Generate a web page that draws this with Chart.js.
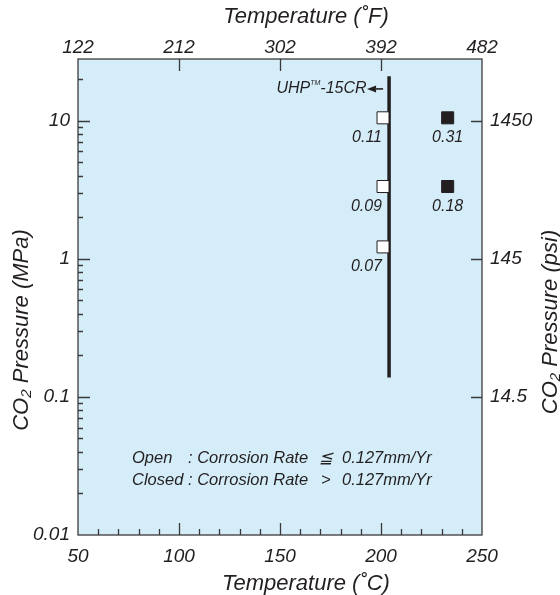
<!DOCTYPE html>
<html>
<head>
<meta charset="utf-8">
<script src="https://cdn.jsdelivr.net/npm/chart.js@4.4.1/dist/chart.umd.min.js"></script>
<style>
  body { margin: 0; background: #fff; }
  #wrap { width: 560px; height: 595px; }
</style>
</head>
<body>
<div id="wrap"><canvas id="myChart" width="560" height="595"></canvas></div>
<script>
// data
const openTemp = [201, 201, 201];           // degC
const openPressure = [10.5, 3.34, 1.22];    // MPa
const openRate = ['0.11', '0.09', '0.07'];  // mm/Yr
const closedTemp = [233, 233];
const closedPressure = [10.5, 3.34];
const closedRate = ['0.31', '0.18'];
const limitTemp = [204, 204];               // UHP-15CR line
const limitPressure = [0.138, 21];
const limitLabelPressure = 17;

// axis ticks
const cTicks = [50, 60, 70, 80, 90, 100, 110, 120, 130, 140, 150, 160, 170, 180, 190, 200, 210, 220, 230, 240, 250];
const fTicks = [122, 212, 302, 392, 482];
const mpaTicks = [0.01, 0.1, 1, 10];
const mpaMinor = [0.02, 0.03, 0.04, 0.05, 0.06, 0.07, 0.08, 0.09,
                  0.2, 0.3, 0.4, 0.5, 0.6, 0.7, 0.8, 0.9,
                  2, 3, 4, 5, 6, 7, 8, 9, 20];
const psiTicks = [14.5, 145, 1450];

const yMin = 0.01, yMax = 28;
const psiPerMpa = 145;

const ink = '#231f20';
const fam = '"Liberation Sans", Arial, sans-serif';
const tickFont = { family: fam, size: 19, style: 'italic' };

const toPts = (xs, ys) => xs.map((x, i) => ({ x: x, y: ys[i] }));

// background, frame, inward ticks, labels and titles
const decor = {
  id: 'decor',
  beforeDraw(chart) {
    const { ctx, chartArea: a } = chart;
    ctx.save();
    ctx.fillStyle = '#d4edf9';
    ctx.fillRect(a.left, a.top, a.right - a.left, a.bottom - a.top);
    ctx.restore();
  },
  afterDraw(chart) {
    const { ctx, chartArea: a, scales } = chart;
    ctx.save();
    ctx.strokeStyle = '#3a3a3a';
    ctx.lineWidth = 1.3;
    ctx.strokeRect(a.left, a.top, a.right - a.left, a.bottom - a.top);

    ctx.beginPath();
    // bottom degC
    scales.x.ticks.forEach(t => {
      if (t.value <= 50 || t.value >= 250) return;
      const px = Math.round(scales.x.getPixelForValue(t.value)) + 0.5;
      const len = t.value % 50 === 0 ? 12 : 6;
      ctx.moveTo(px, a.bottom); ctx.lineTo(px, a.bottom - len);
    });
    // top degF
    scales.x2.ticks.forEach(t => {
      if (t.value <= 122 || t.value >= 482) return;
      const px = Math.round(scales.x2.getPixelForValue(t.value)) + 0.5;
      ctx.moveTo(px, a.top); ctx.lineTo(px, a.top + 12);
    });
    // left MPa
    scales.y.ticks.forEach(t => {
      if (t.value <= yMin) return;
      const py = Math.round(scales.y.getPixelForValue(t.value)) + 0.5;
      const len = mpaTicks.includes(t.value) ? 12 : 5;
      ctx.moveTo(a.left, py); ctx.lineTo(a.left + len, py);
    });
    // right psi
    scales.y2.ticks.forEach(t => {
      const py = Math.round(scales.y2.getPixelForValue(t.value)) + 0.5;
      ctx.moveTo(a.right, py); ctx.lineTo(a.right - 11, py);
    });
    ctx.stroke();

    ctx.fillStyle = ink;
    // corrosion rate labels under the markers
    ctx.font = 'italic 16px ' + fam;
    ctx.textBaseline = 'middle';
    ctx.textAlign = 'right';
    openTemp.forEach((t, i) => {
      ctx.fillText(openRate[i], scales.x.getPixelForValue(t) - 1, scales.y.getPixelForValue(openPressure[i]) + 20);
    });
    ctx.textAlign = 'center';
    closedTemp.forEach((t, i) => {
      ctx.fillText(closedRate[i], scales.x.getPixelForValue(t), scales.y.getPixelForValue(closedPressure[i]) + 20);
    });

    // UHP(TM)-15CR with arrow
    const lx = scales.x.getPixelForValue(limitTemp[0]);
    const ly = scales.y.getPixelForValue(limitLabelPressure);
    const tip = lx - 22;
    ctx.beginPath();
    ctx.moveTo(tip, ly); ctx.lineTo(tip + 9, ly - 3.5); ctx.lineTo(tip + 9, ly + 3.5);
    ctx.closePath(); ctx.fill();
    ctx.lineWidth = 1.8;
    ctx.beginPath(); ctx.moveTo(tip + 8, ly); ctx.lineTo(lx - 6, ly); ctx.stroke();
    ctx.textAlign = 'right';
    ctx.font = 'italic 16px ' + fam;
    let ex = tip - 0.5;
    ctx.fillText('-15CR', ex, ly);
    ex -= ctx.measureText('-15CR').width;
    ctx.font = 'italic 7px ' + fam;
    ctx.fillText('TM', ex, ly - 6);
    ex -= ctx.measureText('TM').width;
    ctx.font = 'italic 16px ' + fam;
    ctx.fillText('UHP', ex, ly);

    // note
    ctx.font = 'italic 16.5px ' + fam;
    ctx.textAlign = 'left';
    ctx.fillText('Open', 132, 458);
    ctx.fillText(': Corrosion Rate', 188, 458);
    ctx.fillText('\u2266', 319, 458);
    ctx.fillText('0.127mm/Yr', 342, 458);
    ctx.fillText('Closed', 132, 480);
    ctx.fillText(': Corrosion Rate', 188, 480);
    ctx.fillText('>', 321, 480);
    ctx.fillText('0.127mm/Yr', 342, 480);

    // axis titles
    ctx.font = 'italic 22px ' + fam;
    ctx.textAlign = 'center';
    ctx.fillText('Temperature (\u02DAF)', 306, 17);
    ctx.fillText('Temperature (\u02DAC)', 306, 584);
    ctx.save();
    ctx.translate(22, 330); ctx.rotate(-Math.PI / 2);
    ctx.fillText('CO\u2082 Pressure (MPa)', 0, 0);
    ctx.restore();
    ctx.save();
    ctx.translate(551, 322); ctx.rotate(-Math.PI / 2);
    ctx.fillText('CO\u2082 Pressure (psi)', 0, 0);
    ctx.restore();
    ctx.restore();
  }
};

const myChart = document.getElementById('myChart');

new Chart(myChart, {
  type: 'scatter',
  data: {
    datasets: [
      {
        label: 'Open',
        data: toPts(openTemp, openPressure),
        pointStyle: 'rect',
        pointRadius: 8.5,
        backgroundColor: '#ffffff',
        borderColor: ink,
        borderWidth: 1,
        order: 1
      },
      {
        label: 'Closed',
        data: toPts(closedTemp, closedPressure),
        pointStyle: 'rect',
        pointRadius: 8.5,
        backgroundColor: ink,
        borderColor: ink,
        borderWidth: 1,
        order: 1
      },
      {
        label: 'UHP-15CR',
        data: toPts(limitTemp, limitPressure),
        showLine: true,
        pointRadius: 0,
        borderColor: ink,
        borderWidth: 3.5,
        borderCapStyle: 'butt',
        order: 2
      }
    ]
  },
  options: {
    responsive: false,
    animation: false,
    layout: { padding: 0 },
    plugins: { legend: { display: false }, tooltip: { enabled: false } },
    scales: {
      x: {
        type: 'linear', position: 'bottom', min: 50, max: 250,
        afterBuildTicks: s => { s.ticks = cTicks.map(v => ({ value: v })); },
        afterFit: s => { s.height = 60; },
        grid: { display: false, drawTicks: false },
        border: { display: false },
        ticks: { font: tickFont, color: ink, padding: 10, maxRotation: 0, autoSkip: false,
                 callback: v => (v % 50 === 0 ? String(v) : '') }
      },
      x2: {
        type: 'linear', position: 'top', min: 122, max: 482,
        afterBuildTicks: s => { s.ticks = fTicks.map(v => ({ value: v })); },
        afterFit: s => { s.height = 59; },
        grid: { display: false, drawTicks: false },
        border: { display: false },
        ticks: { font: tickFont, color: ink, padding: 0, maxRotation: 0, autoSkip: false,
                 callback: v => String(v) }
      },
      y: {
        type: 'logarithmic', position: 'left', min: yMin, max: yMax,
        afterBuildTicks: s => { s.ticks = mpaTicks.concat(mpaMinor).map(v => ({ value: v })); },
        afterFit: s => { s.width = 78; },
        grid: { display: false, drawTicks: false },
        border: { display: false },
        ticks: { font: tickFont, color: ink, padding: 8, autoSkip: false,
                 callback: v => (mpaTicks.includes(v) ? String(v) : '') }
      },
      y2: {
        type: 'logarithmic', position: 'right', min: yMin * psiPerMpa, max: yMax * psiPerMpa,
        afterBuildTicks: s => { s.ticks = psiTicks.map(v => ({ value: v })); },
        afterFit: s => { s.width = 78; },
        grid: { display: false, drawTicks: false },
        border: { display: false },
        ticks: { font: tickFont, color: ink, padding: 8, autoSkip: false,
                 callback: v => String(v) }
      }
    }
  },
  plugins: [decor]
});
</script>
</body>
</html>
